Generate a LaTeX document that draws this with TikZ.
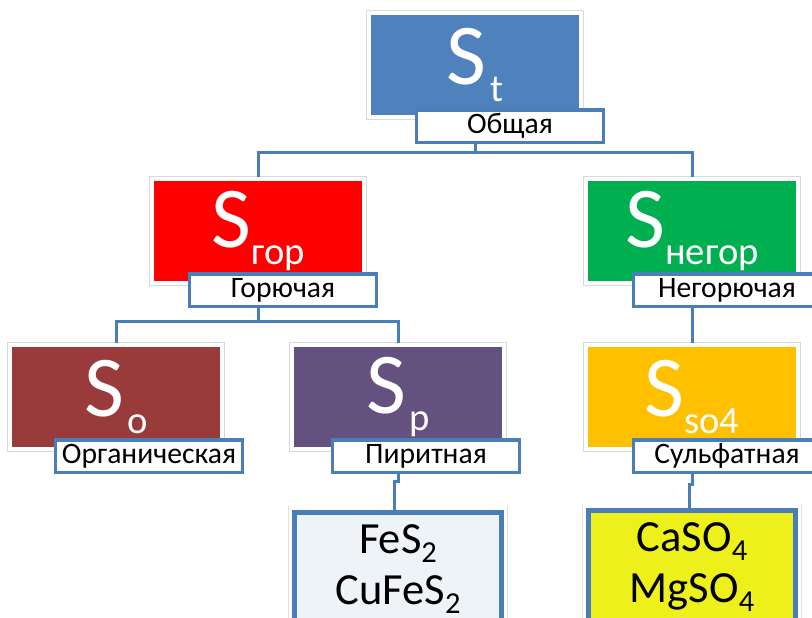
\documentclass[tikz,border=0pt]{standalone}
\usepackage{fontspec}
\setmainfont{Carlito}
\usepackage{xcolor}
\definecolor{linkblue}{RGB}{74,126,187}
\definecolor{totalblue}{RGB}{79,129,189}
\definecolor{gorred}{RGB}{255,0,0}
\definecolor{negorgreen}{RGB}{0,176,80}
\definecolor{orgbrown}{RGB}{153,59,58}
\definecolor{pirpurple}{RGB}{100,81,128}
\definecolor{sulforange}{RGB}{255,192,0}
\definecolor{saltyellow}{RGB}{238,240,28}
\definecolor{minerallight}{RGB}{238,243,248}
\newcommand{\sulf}[2][0pt]{{\fontsize{74pt}{74pt}\selectfont S}\hspace{#1}\raisebox{-15pt}{\fontsize{33pt}{33pt}\selectfont #2}}
\newcommand{\idx}[1]{\raisebox{-7pt}{\fontsize{26pt}{26pt}\selectfont #1}}
\tikzset{
sulfurbox/.style={rectangle, fill=#1, draw=white, line width=1.2mm, preaction={draw=black!15, line width=1.8mm}, inner sep=0pt, minimum width=63.6mm, minimum height=31.2mm, text=white},
namebox/.style={rectangle, fill=white, draw=linkblue, line width=1.05mm, inner sep=0pt, minimum width=56mm, minimum height=9.75mm, font=\fontsize{25.3pt}{25.3pt}\selectfont},
mineralbox/.style={rectangle, fill=#1, draw=linkblue, line width=1.5mm, preaction={draw=black!12, line width=3.9mm}, preaction={draw=white, line width=3.5mm}, inner sep=0pt, minimum width=62.1mm, minimum height=34.2mm, align=center, font=\fontsize{38pt}{43.5pt}\selectfont},
conn/.style={draw=linkblue, line width=0.9mm},
}
\begin{document}
\begin{tikzpicture}[x=0.3mm, y=-0.3mm]
        \clip (0,0) rectangle (812,617);
        \node[sulfurbox=totalblue] at (475,65) (st) {\sulf[3pt]{t}};
        \node[sulfurbox=gorred] at (258,231) (gor) {\sulf{гор}};
        \node[sulfurbox=negorgreen] at (692,231) (negor) {\sulf{негор}};
        \node[sulfurbox=orgbrown] at (116,397) (so) {\sulf[3pt]{o}};
        \node[sulfurbox=pirpurple] at (398,397) (sp) {\sulf[3pt]{p}};
        \node[sulfurbox=sulforange] at (692,397) (so4) {\sulf{so4}};
        \node[namebox] at (510,126) (stlab) {Общая};
        \node[namebox] at (283,290) (gorlab) {Горючая};
        \node[namebox] at (727,290) (negorlab) {Негорючая};
        \node[namebox] at (149,456) (solab) {Органическая};
        \node[namebox] at (426,456) (splab) {Пиритная};
        \node[namebox] at (727,456) (so4lab) {Сульфатная};
        \node[mineralbox=minerallight] at (398,569) (fes) {FeS\idx{2}\\CuFeS\idx{2}};
        \node[mineralbox=saltyellow] at (692,567) (caso) {CaSO\idx{4}\\MgSO\idx{4}};
        \draw[conn] (st.center |- stlab.south) -- ++(0,8) coordinate (stfork);
        \draw[conn] (gor.north) |- (stfork) -| (negor.north);
        \draw[conn] (gor.center |- gorlab.south) -- ++(0,13) coordinate (gorfork);
        \draw[conn] (so.north) |- (gorfork) -| (sp.north);
        \draw[conn] (negor.center |- negorlab.south) -- (negor.center |- so4.north);
        \draw[conn] (sp.center |- splab.south) -- ++(0,7) -- ++(-4,0) coordinate (spjog) -- (spjog |- fes.north);
        \draw[conn] (so4.center |- so4lab.south) -- ++(0,10) -- ++(-3,0) coordinate (so4jog) -- (so4jog |- caso.north);
    \end{tikzpicture}
\end{document}
